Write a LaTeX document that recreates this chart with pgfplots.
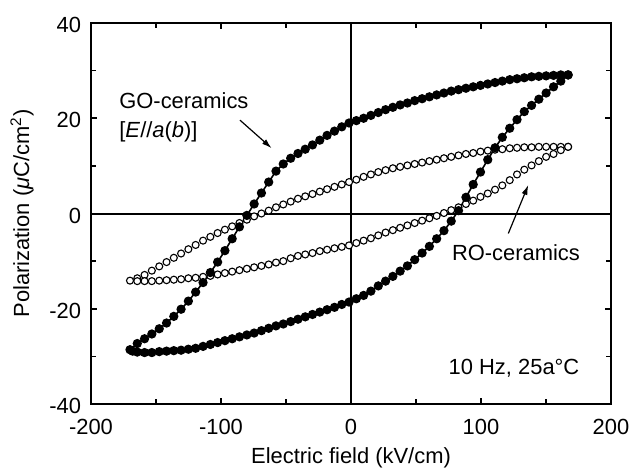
\documentclass[border=0pt]{standalone}
\usepackage{fontspec}
\setmainfont{Liberation Sans}
\usepackage{pgfplots}
\pgfplotsset{compat=1.18}
\usepackage{pgfplotstable}
\usetikzlibrary{arrows.meta}

% GO-ceramics loop: upper branch (E falling), then lower branch (E rising)
\pgfplotstableread{
E P
167.0 29.1
161.4 29.1
155.8 29.0
150.1 28.9
144.5 28.8
138.9 28.7
133.3 28.5
127.7 28.3
122.1 28.1
116.4 27.8
110.8 27.5
105.2 27.2
99.6 26.9
94.0 26.6
88.4 26.3
82.7 26.0
77.1 25.7
71.5 25.3
65.9 24.9
60.3 24.5
54.7 24.1
49.0 23.7
43.4 23.2
37.8 22.8
32.2 22.3
26.6 21.8
21.0 21.2
15.3 20.6
9.7 20.0
4.1 19.5
-1.5 19.0
-7.1 18.2
-12.7 17.3
-18.4 16.4
-24.0 15.4
-29.6 14.4
-35.2 13.5
-40.8 12.6
-46.4 11.6
-52.1 10.4
-57.7 8.9
-63.3 6.6
-68.9 4.3
-74.5 2.0
-80.1 -0.4
-85.8 -2.8
-91.4 -5.3
-97.0 -7.8
-102.6 -10.2
-108.2 -12.4
-113.8 -14.5
-119.5 -16.5
-125.1 -18.4
-130.7 -20.1
-136.3 -21.6
-141.9 -23.0
-147.5 -24.2
-153.2 -25.3
-158.8 -26.3
-164.4 -27.3
-170.0 -28.6
-168.0 -28.9
-164.4 -29.1
-158.8 -29.2
-153.2 -29.2
-147.5 -29.0
-141.9 -28.9
-136.3 -28.8
-130.7 -28.7
-125.1 -28.5
-119.5 -28.3
-113.8 -27.9
-108.2 -27.5
-102.6 -27.1
-97.0 -26.7
-91.4 -26.3
-85.8 -25.9
-80.1 -25.5
-74.5 -25.1
-68.9 -24.6
-63.3 -24.1
-57.7 -23.6
-52.1 -23.2
-46.4 -22.7
-40.8 -22.2
-35.2 -21.7
-29.6 -21.2
-24.0 -20.7
-18.4 -20.2
-12.7 -19.7
-7.1 -19.1
-1.5 -18.6
4.1 -17.9
9.7 -17.2
15.3 -16.3
21.0 -15.2
26.6 -14.2
32.2 -13.2
37.8 -12.1
43.4 -11.0
49.0 -9.7
54.7 -8.3
60.3 -6.9
65.9 -5.3
71.5 -3.6
77.1 -1.6
82.7 0.6
88.4 3.4
94.0 6.1
99.6 8.7
105.2 11.3
110.8 13.8
116.4 16.0
122.1 17.9
127.7 19.7
133.3 21.4
138.9 22.7
144.5 24.0
150.1 25.3
155.8 26.6
161.4 27.8
167.0 29.1
}\godata

% RO-ceramics loop
\pgfplotstableread{
E P
167.0 14.0
161.4 14.0
155.8 14.0
150.1 14.0
144.5 14.0
138.9 13.9
133.3 13.9
127.7 13.8
122.1 13.7
116.4 13.5
110.8 13.4
105.2 13.2
99.6 13.0
94.0 12.7
88.4 12.5
82.7 12.2
77.1 11.9
71.5 11.6
65.9 11.3
60.3 11.0
54.7 10.7
49.0 10.4
43.4 10.1
37.8 9.8
32.2 9.5
26.6 9.1
21.0 8.7
15.3 8.2
9.7 7.7
4.1 7.1
-1.5 6.6
-7.1 6.1
-12.7 5.6
-18.4 5.1
-24.0 4.6
-29.6 4.1
-35.2 3.6
-40.8 3.1
-46.4 2.5
-52.1 1.9
-57.7 1.3
-63.3 0.6
-68.9 0.0
-74.5 -0.6
-80.1 -1.3
-85.8 -2.0
-91.4 -2.7
-97.0 -3.4
-102.6 -4.1
-108.2 -4.9
-113.8 -5.7
-119.5 -6.6
-125.1 -7.5
-130.7 -8.4
-136.3 -9.3
-141.9 -10.2
-147.5 -11.1
-153.2 -12.0
-158.8 -12.9
-164.4 -13.6
-170.0 -14.1
-164.4 -14.2
-158.8 -14.2
-153.2 -14.2
-147.5 -14.1
-141.9 -14.0
-136.3 -13.9
-130.7 -13.8
-125.1 -13.6
-119.5 -13.5
-113.8 -13.3
-108.2 -13.1
-102.6 -12.8
-97.0 -12.5
-91.4 -12.2
-85.8 -11.9
-80.1 -11.6
-74.5 -11.3
-68.9 -11.0
-63.3 -10.7
-57.7 -10.3
-52.1 -10.0
-46.4 -9.4
-40.8 -8.9
-35.2 -8.6
-29.6 -8.3
-24.0 -7.9
-18.4 -7.6
-12.7 -7.3
-7.1 -7.0
-1.5 -6.7
4.1 -6.2
9.7 -5.7
15.3 -5.2
21.0 -4.6
26.6 -4.0
32.2 -3.5
37.8 -3.0
43.4 -2.5
49.0 -2.0
54.7 -1.5
60.3 -1.0
65.9 -0.5
71.5 0.1
77.1 0.7
82.7 1.3
88.4 2.0
94.0 2.7
99.6 3.5
105.2 4.2
110.8 5.0
116.4 5.9
122.1 7.0
127.7 8.2
133.3 9.2
138.9 10.1
144.5 11.0
150.1 11.9
155.8 12.5
161.4 13.3
167.0 14.0
}\rodata

\begin{document}
\begin{tikzpicture}
\path[use as bounding box] (-45.5bp,-32.5bp) rectangle (271bp,202bp);
\begin{axis}[
  scale only axis, width=260bp, height=190.5bp,
  xmin=-200, xmax=200, ymin=-40, ymax=40,
  xtick={-200,-100,0,100,200}, xticklabels={-200,-100,0,100,200},
  ytick={-40,-20,0,20,40}, yticklabels={-40,-20,0,20,40},
  minor x tick num=1, minor y tick num=1,
  major tick length=2.8bp, minor tick length=2.6bp,
  tick style={line width=0.8bp, black},
  axis line style={line width=1bp},
  tick label style={font=\fontsize{11}{13}\selectfont},
  xticklabel style={yshift=-4bp},
  yticklabel style={xshift=-1.5bp, yshift=-1bp},
  label style={font=\fontsize{11}{13}\selectfont},
  xlabel={Electric field (kV/cm)},
  ylabel={Polarization (\textit{μ}C/cm\textsuperscript{2})},
  xlabel style={at={(axis description cs:0.5,-0.14)}, anchor=center},
  ylabel style={at={(axis description cs:-0.1327,0.5)}, anchor=center},
  clip=false,
]
\addplot[black, only marks, mark=*, mark size=1.75bp,
  mark options={fill=white, line width=0.55bp}] table {\rodata};
\addplot[black, line width=0.8bp, mark=*, mark size=1.9bp,
  mark options={fill=black}] table {\godata};
\draw[line width=1bp] (axis cs:0,-40) -- (axis cs:0,40);
\draw[line width=1bp] (axis cs:-200,0) -- (axis cs:200,0);
\node[anchor=west, align=left, font=\fontsize{11}{14.5}\selectfont, inner sep=0pt]
  at (axis cs:-178.5,20.2) {GO-ceramics\\{}[\textit{E}//\textit{a}(\textit{b})]};
\draw[line width=0.6bp, -{Latex[length=5bp,width=3bp]}]
  (axis cs:-85.4,19.6) -- (axis cs:-61,13.7);
\node[font=\fontsize{11}{13}\selectfont, inner sep=0pt]
  at (axis cs:126.9,-8.2) {RO-ceramics};
\draw[line width=0.6bp, -{Latex[length=5bp,width=3bp]}]
  (axis cs:121,-4.2) -- (axis cs:136.4,6.0);
\node[font=\fontsize{11}{13}\selectfont, inner sep=0pt]
  at (axis cs:125.4,-32.5) {10 Hz, 25a°C};
\end{axis}
\end{tikzpicture}
\end{document}
